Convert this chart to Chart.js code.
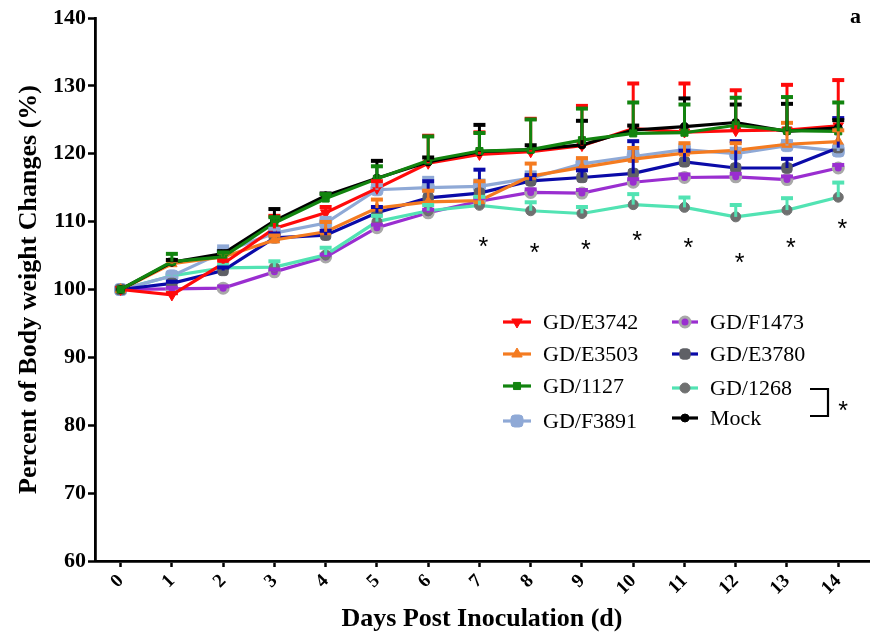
<!DOCTYPE html>
<html><head><meta charset="utf-8">
<script src="https://cdn.jsdelivr.net/npm/chart.js@4/dist/chart.umd.min.js"></script>
<style>html,body{margin:0;padding:0;background:#fff}#wrap{width:877px;height:637px;position:relative}</style>
</head><body><div id="wrap"><canvas id="c" width="877" height="637"></canvas></div>
<script>
// ---- data ----
const days = [0,1,2,3,4,5,6,7,8,9,10,11,12,13,14];
const seriesNames = ['GD/E3742','GD/E3503','GD/1127','GD/F3891','GD/F1473','GD/E3780','GD/1268','Mock'];
const e3742 = [100,99.2,103.8,109.0,111.3,114.9,118.6,119.9,120.3,121.2,123.7,123.2,123.4,123.5,124.1];
const e3503 = [100,103.8,104.8,107.3,108.5,112.0,112.9,113.1,116.7,118.0,119.2,120.1,120.5,121.4,121.8];
const g1127 = [100,104.1,104.8,109.8,113.4,116.3,119.0,120.4,120.6,122.0,123.0,123.1,124.2,123.4,123.3];
const f3891 = [100,102.0,105.5,108.3,109.8,114.7,115.0,115.2,116.4,118.5,119.6,120.6,120.0,121.2,120.4];
const f1473 = [100,100.1,100.2,102.6,104.8,109.1,111.3,113.0,114.3,114.2,115.8,116.5,116.6,116.2,117.9];
const e3780 = [100,100.9,102.8,107.6,108.0,111.3,113.5,114.2,116.0,116.5,117.1,118.8,117.9,117.9,120.9];
const g1268 = [100,102.0,103.2,103.3,105.1,110.0,111.6,112.4,111.6,111.2,112.5,112.1,110.7,111.7,113.6];
const mock  = [100,104.0,105.3,110.1,113.8,116.4,118.8,120.3,120.6,121.3,123.5,124.0,124.6,123.3,123.8];
// upward standard-deviation bars
const errE3742 = [0,0.4,0.6,2.0,1.0,1.2,4.2,3.4,5.0,6.0,6.8,7.3,6.1,6.8,6.9];
const errE3503 = [0,0.6,0.8,0.8,1.6,1.4,1.8,3.0,2.0,1.5,1.8,1.6,1.2,3.3,1.8];
const errG1127 = [0,1.3,0.8,1.0,0.8,2.0,3.7,2.8,4.6,4.8,4.7,4.3,4.2,5.1,4.4];
const errF3891 = [0,0.6,1.0,0.8,0.9,0.8,1.6,1.0,1.0,0.9,0.9,0.8,0.9,0.8,0.8];
const errF1473 = [0,0.3,0.4,0.5,0.5,0.6,0.6,0.6,0.6,0.6,0.6,0.6,0.6,0.6,0.6];
const errE3780 = [0,0.4,0.6,0.8,0.8,1.0,2.6,3.6,1.0,1.2,4.9,1.8,4.1,1.5,4.5];
const errG1268 = [0,0.5,0.6,1.0,1.2,1.0,1.0,1.4,1.4,1.1,1.7,1.6,1.9,1.9,2.3];
const errMock  = [0,0.5,0.5,1.9,0.5,2.7,0.8,4.1,0.8,3.7,0.8,4.3,2.8,4.2,1.3];
// significance marks (*) vs Mock
const sigDays = [7,8,9,10,11,12,13,14];
const sigLevels = [107.0,106.1,106.6,107.9,106.9,104.6,106.9,109.7];
const yTicks = [60,70,80,90,100,110,120,130,140];

const seriesValues = [e3742,e3503,g1127,f3891,f1473,e3780,g1268,mock];
const seriesErrors = [errE3742,errE3503,errG1127,errF3891,errF1473,errE3780,errG1268,errMock];
const styles = [
  {c:'#ff0a0a', ps:'triangle', r:6, rot:180, bg:'#ff0a0a', bc:'#ff0a0a', bw:1, order:2},
  {c:'#f47b20', ps:'triangle', r:6, rot:0, bg:'#f47b20', bc:'#f47b20', bw:1, order:3},
  {c:'#12840f', ps:'rect', r:5, rot:0, bg:'#12840f', bc:'#12840f', bw:1, order:0},
  {c:'#8fa9d6', ps:'rectRounded', r:7, rot:0, bg:'#8fa9d6', bc:'#8fa9d6', bw:1, order:5},
  {c:'#9a2ed0', ps:'circle', r:5, rot:0, bg:'#9a2ed0', bc:'#a8a8a8', bw:3, order:7},
  {c:'#0a0aa8', ps:'rectRounded', r:6, rot:0, bg:'#5f6066', bc:'#5f6066', bw:1, order:4},
  {c:'#52e3b3', ps:'circle', r:5, rot:0, bg:'#6f7070', bc:'#6f7070', bw:1, order:6},
  {c:'#000000', ps:'circle', r:4, rot:0, bg:'#000000', bc:'#000000', bw:1, order:1}
];

const datasets = seriesNames.map((name,i)=>({
  label:name,
  data: days.map((d,j)=>({x:d,y:seriesValues[i][j]})),
  errors: seriesErrors[i],
  borderColor: styles[i].c,
  borderWidth: 3.2,
  pointStyle: styles[i].ps,
  pointRadius: styles[i].r,
  pointRotation: styles[i].rot,
  pointBackgroundColor: styles[i].bg,
  pointBorderColor: styles[i].bc,
  pointBorderWidth: styles[i].bw,
  tension: 0,
  order: styles[i].order
}));

const serif = "'Liberation Serif','Times New Roman',serif";

const errorBarPlugin = {
  id:'errorBars',
  afterDatasetsDraw(chart){
    const ctx = chart.ctx, xs = chart.scales.x, ys = chart.scales.y;
    const idx = chart.data.datasets.map((d,i)=>i).sort((a,b)=>chart.data.datasets[b].order-chart.data.datasets[a].order);
    idx.forEach(i=>{
      const ds = chart.data.datasets[i];
      ctx.save();
      ctx.strokeStyle = ds.borderColor;
      ds.data.forEach((p,j)=>{
        const e = ds.errors[j];
        if(!e) return;
        const x = xs.getPixelForValue(p.x);
        const y0 = ys.getPixelForValue(p.y);
        const y1 = ys.getPixelForValue(p.y+e);
        ctx.lineWidth = 3;
        ctx.beginPath(); ctx.moveTo(x,y0); ctx.lineTo(x,y1); ctx.stroke();
        ctx.lineWidth = 4;
        ctx.beginPath(); ctx.moveTo(x-6,y1+1); ctx.lineTo(x+6,y1+1); ctx.stroke();
      });
      ctx.restore();
    });
  }
};

const annotPlugin = {
  id:'annot',
  afterDraw(chart){
    const ctx = chart.ctx, xs = chart.scales.x, ys = chart.scales.y;
    ctx.save();
    // significance stars
    ctx.fillStyle = '#000';
    ctx.font = "25px 'Liberation Sans',Arial,sans-serif";
    ctx.textAlign = 'center'; ctx.textBaseline = 'middle';
    sigDays.forEach((d,k)=>{
      ctx.fillText('*', xs.getPixelForValue(d)+4, ys.getPixelForValue(sigLevels[k])+6);
    });
    // legend
    const cols = [{x0:503,x1:531,tx:543,ys:[322,354,386,421]},{x0:672,x1:698,tx:710,ys:[322,354,388,418]}];
    chart.data.datasets.forEach((ds,i)=>{
      const col = cols[i<4?0:1], y = col.ys[i%4];
      ctx.strokeStyle = ds.borderColor; ctx.lineWidth = 3.2;
      ctx.beginPath(); ctx.moveTo(col.x0,y); ctx.lineTo(col.x1,y); ctx.stroke();
      ctx.fillStyle = ds.pointBackgroundColor; ctx.strokeStyle = ds.pointBorderColor; ctx.lineWidth = ds.pointBorderWidth;
      Chart.helpers.drawPoint(ctx,{pointStyle:ds.pointStyle,radius:ds.pointRadius,rotation:ds.pointRotation,borderWidth:ds.pointBorderWidth},(col.x0+col.x1)/2,y);
      ctx.fillStyle = '#000';
      ctx.font = "22px "+serif;
      ctx.textAlign = 'left'; ctx.textBaseline = 'middle';
      ctx.fillText(ds.label, col.tx, y+1);
    });
    // bracket
    ctx.strokeStyle = '#000'; ctx.lineWidth = 2.2;
    ctx.beginPath(); ctx.moveTo(810,389); ctx.lineTo(828,389); ctx.lineTo(828,416); ctx.lineTo(810,416); ctx.stroke();
    ctx.fillStyle = '#000';
    ctx.font = "25px 'Liberation Sans',Arial,sans-serif";
    ctx.textAlign = 'center'; ctx.textBaseline = 'middle';
    ctx.fillText('*', 843, 412);
    // panel letter
    ctx.font = "bold 22px "+serif;
    ctx.textAlign = 'left'; ctx.textBaseline = 'middle';
    ctx.fillText('a', 850, 17);
    ctx.restore();
  }
};

new Chart(document.getElementById('c'), {
  type:'line',
  data:{datasets},
  options:{
    responsive:false, animation:false,
    layout:{padding:{top:18,right:2,left:0,bottom:0}},
    plugins:{legend:{display:false}, tooltip:{enabled:false}},
    scales:{
      x:{
        type:'linear', min:-0.5, max:14.6,
        afterBuildTicks:(s)=>{ s.ticks = days.map(v=>({value:v})); },
        afterFit:(s)=>{ s.height = 76; },
        grid:{drawOnChartArea:false, drawTicks:true, tickLength:6, tickWidth:2.5, tickColor:'#000'},
        border:{display:true, color:'#000', width:2.8},
        ticks:{color:'#000', minRotation:45, maxRotation:45, padding:3, font:{family:serif, size:19, weight:'bold'}},
        title:{display:true, text:'Days Post Inoculation (d)', color:'#000', font:{family:serif, size:26, weight:'bold'}, padding:{top:4,bottom:2}}
      },
      y:{
        min:60, max:140,
        afterBuildTicks:(s)=>{ s.ticks = yTicks.map(v=>({value:v})); },
        afterFit:(s)=>{ s.width = 95; },
        grid:{drawOnChartArea:false, drawTicks:true, tickLength:7, tickWidth:2.5, tickColor:'#000'},
        border:{display:true, color:'#000', width:2.8},
        ticks:{color:'#000', padding:2, font:{family:serif, size:22, weight:'bold'}},
        title:{display:true, text:'Percent of Body weight Changes (%)', color:'#000', font:{family:serif, size:26, weight:'bold'}, padding:{top:14,bottom:0}}
      }
    }
  },
  plugins:[errorBarPlugin, annotPlugin]
});
</script></body></html>
